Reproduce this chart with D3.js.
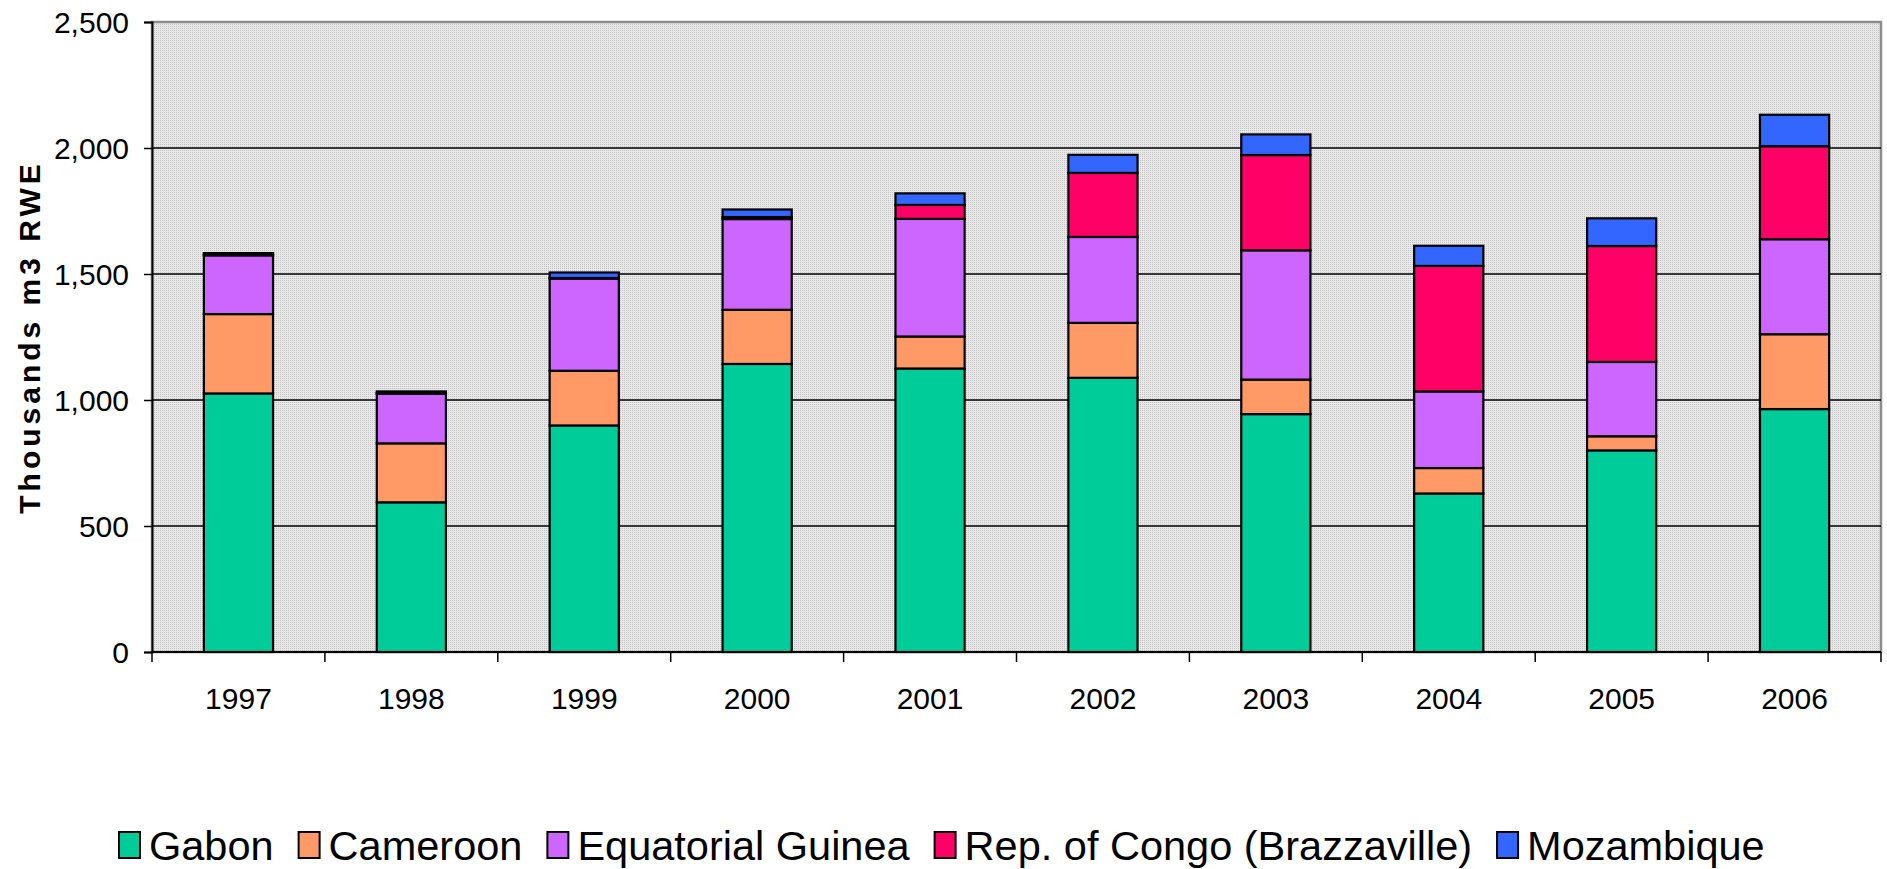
<!DOCTYPE html>
<html>
<head>
<meta charset="utf-8">
<script src="https://cdn.jsdelivr.net/npm/d3@7"></script>
<style>
  html, body { margin: 0; padding: 0; background: #ffffff; }
  svg { display: block; }
  text { font-family: "Liberation Sans", Arial, sans-serif; fill: #000; }
</style>
</head>
<body>
<svg id="chart" width="1887" height="869"></svg>
<script>
const years = ["1997","1998","1999","2000","2001","2002","2003","2004","2005","2006"];
const seriesNames = ["Gabon","Cameroon","Equatorial Guinea","Rep. of Congo (Brazzaville)","Mozambique"];
const gabon    = [1026, 594, 899, 1143, 1125, 1088, 944, 629, 800, 964];
const cameroon = [ 315, 234, 217,  215,  127,  218, 137, 101,  56, 297];
const eqGuinea = [ 233, 197, 366,  360,  467,  341, 513, 304, 295, 377];
const congo    = [   3,   2,   2,    8,   55,  254, 378, 498, 460, 369];
const mozamb   = [   6,   7,  22,   30,   46,   72,  82,  80, 110, 125];
const yTicks = [0, 500, 1000, 1500, 2000, 2500];
const colors = ["#00CC99","#FF9966","#CC66FF","#FF0066","#3366FF"];

const seriesValues = [gabon, cameroon, eqGuinea, congo, mozamb];
const table = years.map((yr, i) => {
  const row = { year: yr };
  seriesNames.forEach((s, k) => { row[s] = seriesValues[k][i]; });
  return row;
});

const svg = d3.select("#chart");
const L = 152, R = 1881, T = 22, B = 652;

const x = d3.scaleBand().domain(years).range([L, R]).paddingInner(0.6).paddingOuter(0.3);
const y = d3.scaleLinear().domain([0, 2500]).range([B, T]);

// dotted background pattern
const defs = svg.append("defs");
const pat = defs.append("pattern").attr("id", "dots").attr("patternUnits", "userSpaceOnUse")
  .attr("width", 2).attr("height", 2);
pat.append("rect").attr("width", 2).attr("height", 2).attr("fill", "#e8e8e8");
pat.append("rect").attr("width", 1).attr("height", 1).attr("fill", "#c4c4c4");

svg.append("rect").attr("x", L).attr("y", T).attr("width", R - L).attr("height", B - T)
  .attr("fill", "url(#dots)").attr("stroke", "#8c8c8c").attr("stroke-width", 2.5);

// gridlines
svg.append("g").selectAll("line").data(yTicks.filter(v => v > 0 && v < 2500)).join("line")
  .attr("x1", L).attr("x2", R).attr("y1", d => y(d)).attr("y2", d => y(d))
  .attr("stroke", "#000").attr("stroke-width", 1.5);

// bars
const stack = d3.stack().keys(seriesNames);
const layers = stack(table);
svg.append("g").selectAll("g").data(layers).join("g")
  .attr("fill", (d, i) => colors[i])
  .selectAll("rect").data(d => d).join("rect")
  .attr("x", d => x(d.data.year))
  .attr("width", x.bandwidth())
  .attr("y", d => y(d[1]))
  .attr("height", d => y(d[0]) - y(d[1]))
  .attr("stroke", "#000").attr("stroke-width", 2.2);

// y axis
const yAxis = d3.axisLeft(y).tickValues(yTicks).tickSize(8).tickPadding(15)
  .tickFormat(d3.format(","));
const gy = svg.append("g").attr("transform", `translate(${L},0)`).call(yAxis);
gy.select(".domain").attr("stroke", "#000").attr("stroke-width", 2);
gy.selectAll(".tick line").attr("stroke", "#000").attr("stroke-width", 1.5);
gy.selectAll(".tick text").attr("font-size", 30).attr("font-family", "Liberation Sans, Arial, sans-serif")
  .attr("dy", "0.36em");

// x axis
const xAxis = d3.axisBottom(x).tickSize(0).tickPadding(36);
const gx = svg.append("g").attr("transform", `translate(0,${B})`).call(xAxis);
gx.select(".domain").remove();
gx.selectAll(".tick text").attr("font-size", 30).attr("font-family", "Liberation Sans, Arial, sans-serif")
  .attr("dy", "0.71em");
svg.append("line").attr("x1", L).attr("x2", R).attr("y1", B).attr("y2", B)
  .attr("stroke", "#000").attr("stroke-width", 2);
const step = x.step();
const boundaries = years.map(yr => x(yr) - step * x.paddingOuter()).concat([R]);
svg.append("g").selectAll("line").data(boundaries).join("line")
  .attr("x1", d => d).attr("x2", d => d).attr("y1", B).attr("y2", B + 10)
  .attr("stroke", "#000").attr("stroke-width", 1.5);

// y title
svg.append("text")
  .attr("transform", `translate(40,${(T + B) / 2}) rotate(-90)`)
  .attr("text-anchor", "middle")
  .attr("font-size", 30).attr("font-weight", "bold")
  .attr("letter-spacing", 4)
  .text("Thousands m3 RWE");

// legend
const lg = svg.append("g");
let cx = 119;
seriesNames.forEach((s, i) => {
  lg.append("rect").attr("x", cx).attr("y", 832).attr("width", 21).attr("height", 26)
    .attr("fill", colors[i]).attr("stroke", "#000").attr("stroke-width", 2);
  const t = lg.append("text").attr("x", cx + 30).attr("y", 860).attr("font-size", 41.5).text(s);
  cx += 30 + t.node().getComputedTextLength() + 25;
});
</script>
</body>
</html>
